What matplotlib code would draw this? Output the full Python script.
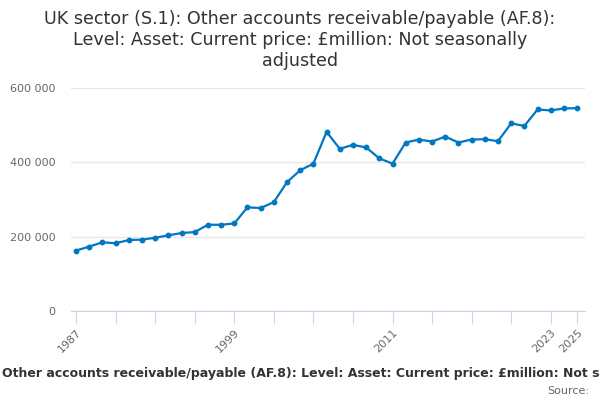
import numpy as np
import matplotlib.pyplot as plt
from matplotlib.ticker import FuncFormatter

years = list(range(1987, 2026))
values = [162.7, 173.3, 184.9, 182.2, 191.0, 192.0, 197.0, 203.6, 209.8, 212.4,
          232.0, 232.0, 235.6, 279.0, 277.0, 293.0, 346.7, 378.7, 396.4, 482.0,
          436.4, 447.0, 440.0, 410.7, 396.4, 453.3, 461.3, 456.0, 469.3, 453.3,
          461.3, 462.2, 456.9, 504.9, 497.8, 542.2, 539.6, 544.9, 545.8]
values = [v * 1000 for v in values]

title = ('UK sector (S.1): Other accounts receivable/payable (AF.8):\n'
         'Level: Asset: Current price: £million: Not seasonally\nadjusted')
caption = ('Other accounts receivable/payable (AF.8): Level: Asset: '
           'Current price: £million: Not seasonally adjusted')

fig = plt.figure(figsize=(6, 4), dpi=100)
ax = fig.add_axes([0.118, 0.2225, 0.857, 0.5575])

ax.plot(years, values, color='#0077c2', lw=1.6, marker='o', ms=3.2, zorder=3)

ax.set_ylim(0, 600000)
ax.set_xlim(1986.6, 2025.6)
ax.set_yticks([0, 200000, 400000, 600000])
ax.yaxis.set_major_formatter(FuncFormatter(lambda v, p: f'{int(v):,}'.replace(',', ' ')))
ax.grid(axis='y', color='#e6e6e6', lw=1)
ax.set_axisbelow(True)

tick_years = list(range(1987, 2024, 3)) + [2025]
ax.set_xticks(tick_years)
ax.set_xticklabels([str(y) if y in (1987, 1999, 2011, 2023, 2025) else '' for y in tick_years],
                   rotation=45, ha='right', rotation_mode='anchor')
ax.tick_params(axis='x', length=9, color='#ccd6eb', labelsize=8, labelcolor='#666666', pad=3)
ax.tick_params(axis='y', length=0, labelsize=8, labelcolor='#666666', pad=11)

for s in ['top', 'right', 'left']:
    ax.spines[s].set_visible(False)
ax.spines['bottom'].set_color('#ccd6eb')

fig.text(0.5, 0.975, title, ha='center', va='top', fontsize=12.6, color='#333333',
         linespacing=1.2)
fig.text(0.004, 0.065, caption, ha='left', va='center', fontsize=9,
         fontweight='bold', color='#333333')
fig.text(0.982, 0.022, 'Source:', ha='right', va='center', fontsize=8, color='#666666')

fig.savefig('out.png', dpi=100)
